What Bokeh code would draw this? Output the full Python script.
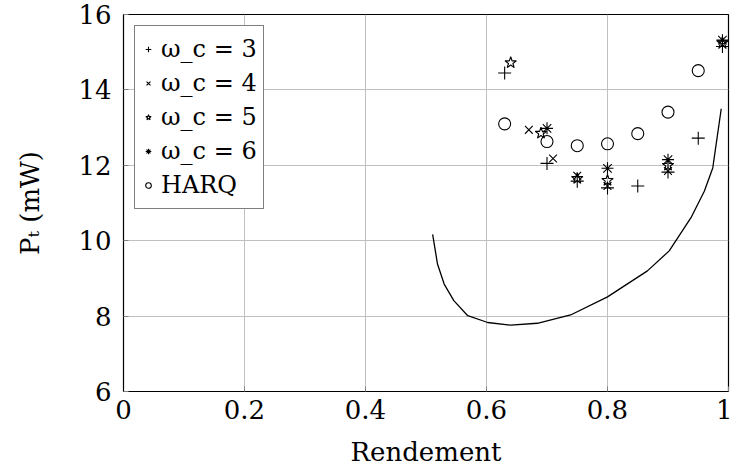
import numpy as np
from bokeh.plotting import figure
from bokeh.models import Legend, LegendItem, Range1d, FixedTicker
from bokeh.embed import file_html
from bokeh.resources import INLINE

# data
w3_x = [0.63, 0.70, 0.75, 0.80, 0.85, 0.90, 0.95, 0.99]
w3_y = [14.45, 12.05, 11.58, 11.40, 11.45, 11.82, 12.72, 15.15]
w4_x = [0.67, 0.71, 0.75, 0.80, 0.90, 0.99]
w4_y = [12.94, 12.18, 11.72, 11.45, 11.85, 15.20]
w5_x = [0.64, 0.69, 0.75, 0.80, 0.90, 0.99]
w5_y = [14.72, 12.85, 11.65, 11.60, 12.00, 15.25]
w6_x = [0.70, 0.80, 0.90, 0.99]
w6_y = [12.98, 11.92, 12.15, 15.32]
harq_x = [0.63, 0.70, 0.75, 0.80, 0.85, 0.90, 0.95]
harq_y = [13.10, 12.63, 12.52, 12.57, 12.84, 13.41, 14.51]
curve_x = [0.511, 0.519, 0.530, 0.546, 0.569, 0.602, 0.640, 0.684, 0.739,
           0.800, 0.866, 0.902, 0.938, 0.960, 0.974, 0.988]
curve_y = [10.17, 9.38, 8.85, 8.41, 8.01, 7.83, 7.76, 7.81, 8.03,
           8.51, 9.20, 9.73, 10.61, 11.31, 11.93, 13.50]
x_ticks = [0, 0.2, 0.4, 0.6, 0.8, 1]
y_ticks = [6, 8, 10, 12, 14, 16]
labels = ["ω_c = 3", "ω_c = 4", "ω_c = 5", "ω_c = 6", "HARQ"]

FONT = "DejaVu Serif"
FS = "26px"

p = figure(width=732, height=470, output_backend="svg", toolbar_location=None,
           x_range=Range1d(0, 1), y_range=Range1d(6, 16),
           min_border_left=123, min_border_right=4, min_border_top=14,
           min_border_bottom=79)
p.background_fill_color = "white"
p.border_fill_color = "white"
p.outline_line_color = "black"
p.outline_line_width = 1.2

p.xaxis.ticker = FixedTicker(ticks=x_ticks)
p.yaxis.ticker = FixedTicker(ticks=y_ticks)
p.xaxis.major_label_overrides = {0: "0", 1: "1"}
p.xaxis.axis_label = "Rendement"
p.yaxis.axis_label = "Pₜ (mW)"
for ax in (p.xaxis, p.yaxis):
    ax.axis_label_text_font = FONT
    ax.axis_label_text_font_size = FS
    ax.axis_label_text_font_style = "normal"
    ax.axis_label_text_color = "black"
    ax.major_label_text_font = FONT
    ax.major_label_text_font_size = FS
    ax.major_label_text_color = "black"
    ax.axis_line_color = "black"
    ax.major_tick_in = 5
    ax.major_tick_out = 0
    ax.major_tick_line_color = "#808080"
    ax.minor_tick_line_color = None
p.xaxis.major_label_standoff = 8
p.xaxis.axis_label_standoff = 15
p.yaxis.major_label_standoff = 12
p.yaxis.axis_label_standoff = 30

p.grid.grid_line_color = "#c0c0c0"
p.grid.grid_line_width = 1

p.line(curve_x, curve_y, line_color="black", line_width=1.3)

r3 = p.scatter(w3_x, w3_y, marker="cross", size=13, line_color="black", line_width=1.1)
r4 = p.scatter(w4_x, w4_y, marker="x", size=11, line_color="black", line_width=1.1)
r5 = p.scatter(w5_x, w5_y, marker="star", size=12, line_color="black",
               fill_color=None, line_width=1.1)
r6 = p.scatter(w6_x, w6_y, marker="asterisk", size=12, line_color="black", line_width=1.1)
rh = p.scatter(harq_x, harq_y, marker="circle", size=12, line_color="black",
               fill_color=None, line_width=1.1)

legend = Legend(items=[LegendItem(label=l, renderers=[r]) for l, r in
                       zip(labels, [r3, r4, r5, r6, rh])],
                location="top_left")
legend.label_text_font = FONT
legend.label_text_font_size = "24px"
legend.label_text_color = "black"
legend.border_line_color = "black"
legend.border_line_width = 1.2
legend.background_fill_alpha = 1
legend.margin = 11
legend.padding = 6
legend.spacing = 0
legend.glyph_width = 14
legend.label_standoff = 6
legend.label_height = 34
p.add_layout(legend)

open("out.html", "w").write(file_html(p, INLINE))
